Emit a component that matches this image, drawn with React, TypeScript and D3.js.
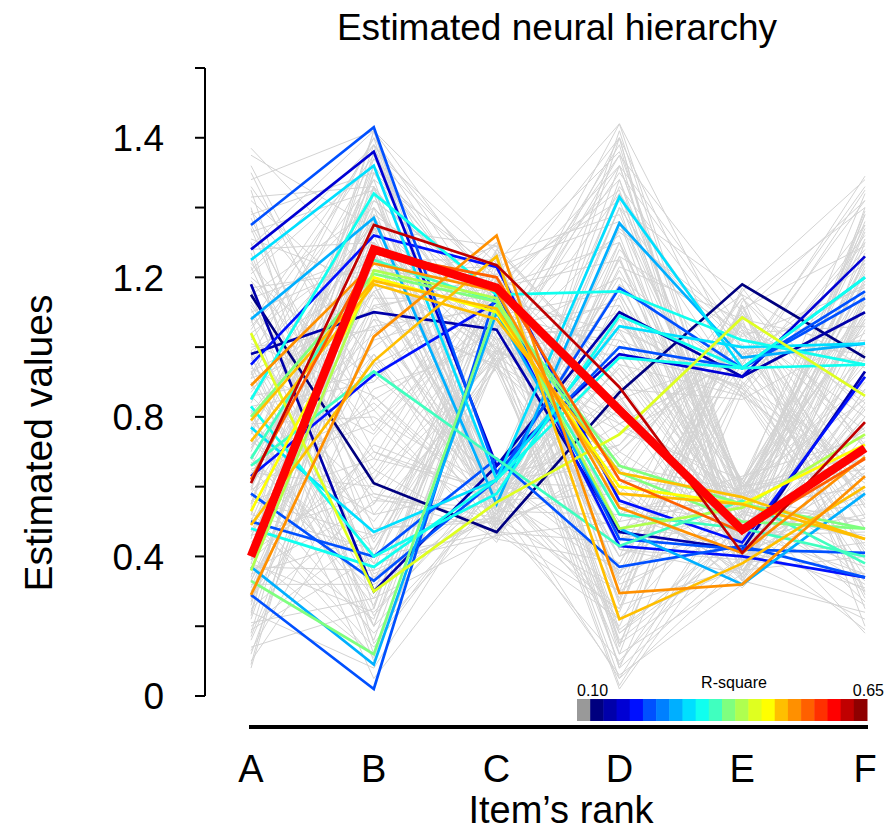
import React from "react";
import * as d3 from "d3";

const categories = ["A", "B", "C", "D", "E", "F"];
const yTickValues = [0, 0.2, 0.4, 0.6, 0.8, 1.0, 1.2, 1.4, 1.6, 1.8];
const yLabelValues = [0, 0.4, 0.8, 1.2, 1.6];
const yLabelTexts = ["0", "0.4", "0.8", "1.2", "1.4"];

const jetPalette = [
  "#00007F", "#0000AA", "#0000D4", "#0010FF", "#0050FF", "#0080FF", "#00AFFF",
  "#00DFFF", "#10FFEF", "#40FFBF", "#7FFF7F", "#AFFF50", "#DFFF20", "#FFFF00",
  "#FFBF00", "#FF9000", "#FF6000", "#FF3000", "#FF0000", "#C00000", "#8F0000",
];
const legendLow = "0.10";
const legendHigh = "0.65";

const grayValues: number[][] = [
  [1.57, 1.20, 0.98, 1.64, 0.95, 1.49],
  [1.52, 0.85, 1.05, 1.55, 1.10, 1.42],
  [1.48, 1.62, 0.58, 0.30, 0.52, 1.38],
  [1.45, 0.40, 1.20, 0.08, 0.40, 1.30],
  [1.42, 1.10, 0.50, 1.48, 0.60, 0.90],
  [1.40, 0.25, 1.28, 0.90, 1.15, 0.25],
  [1.38, 1.50, 0.95, 0.12, 0.35, 1.05],
  [1.35, 0.70, 0.55, 1.40, 0.88, 0.40],
  [1.33, 1.45, 1.10, 0.45, 0.58, 1.25],
  [1.30, 0.15, 0.62, 1.25, 0.45, 1.20],
  [1.28, 1.30, 0.47, 0.70, 1.05, 0.30],
  [1.25, 0.55, 1.15, 1.60, 0.33, 0.75],
  [1.22, 1.58, 0.60, 0.20, 0.92, 1.45],
  [1.20, 0.90, 1.30, 0.55, 0.50, 1.10],
  [1.18, 0.35, 0.52, 1.35, 1.00, 0.55],
  [1.15, 1.40, 1.02, 0.05, 0.38, 0.80],
  [1.12, 0.65, 0.45, 1.15, 0.62, 1.35],
  [1.10, 1.25, 1.25, 0.35, 1.12, 0.20],
  [1.08, 0.20, 0.57, 1.52, 0.55, 0.95],
  [1.05, 1.55, 0.94, 0.65, 0.42, 1.40],
  [1.03, 0.45, 1.12, 0.15, 0.90, 0.65],
  [1.00, 1.05, 0.63, 1.30, 0.34, 1.15],
  [0.98, 0.10, 0.99, 0.80, 0.58, 0.45],
  [0.96, 1.35, 0.48, 0.25, 1.08, 1.00],
  [0.94, 0.75, 1.18, 1.45, 0.47, 0.35],
  [0.92, 1.60, 0.53, 0.95, 0.86, 1.28],
  [0.90, 0.30, 1.08, 0.40, 0.60, 0.85],
  [0.88, 1.15, 0.64, 1.20, 0.40, 0.60],
  [0.86, 0.50, 0.96, 0.02, 0.52, 1.22],
  [0.84, 1.48, 1.22, 0.75, 0.95, 0.28],
  [0.82, 0.05, 0.50, 1.10, 0.36, 0.70],
  [0.80, 1.20, 1.00, 0.50, 1.16, 1.48],
  [0.78, 0.80, 0.59, 1.62, 0.55, 0.50],
  [0.76, 1.38, 1.14, 0.18, 0.44, 0.92],
  [0.74, 0.28, 0.46, 0.85, 0.98, 1.18],
  [0.72, 1.00, 1.26, 1.38, 0.61, 0.38],
  [0.70, 1.52, 0.61, 0.60, 0.32, 0.78],
  [0.68, 0.38, 1.04, 1.05, 0.88, 1.32],
  [0.66, 1.28, 0.51, 0.10, 0.50, 0.55],
  [0.64, 0.60, 0.97, 1.50, 1.02, 0.98],
  [0.62, 1.42, 1.16, 0.42, 0.39, 0.22],
  [0.60, 0.18, 0.55, 1.18, 0.57, 1.08],
  [0.58, 1.12, 0.94, 0.28, 1.10, 0.62],
  [0.56, 0.68, 1.28, 0.92, 0.46, 1.38],
  [0.54, 1.62, 0.49, 1.28, 0.90, 0.42],
  [0.52, 0.42, 1.06, 0.58, 0.35, 0.88],
  [0.50, 1.32, 0.60, 0.05, 0.62, 1.12],
  [0.48, 0.22, 1.20, 1.42, 0.53, 0.32],
  [0.46, 1.08, 0.56, 0.72, 1.14, 0.72],
  [0.44, 0.88, 1.01, 1.58, 0.41, 1.26],
  [0.42, 1.46, 0.45, 0.38, 0.93, 0.48],
  [0.40, 0.12, 1.10, 1.00, 0.56, 0.18],
  [0.38, 1.18, 0.62, 0.22, 0.37, 1.02],
  [0.36, 0.55, 0.98, 1.33, 1.06, 0.58],
  [0.34, 1.56, 1.24, 0.48, 0.60, 1.44],
  [0.32, 0.32, 0.52, 0.88, 0.43, 0.82],
  [0.30, 1.02, 1.13, 0.08, 0.87, 0.36],
  [0.28, 0.72, 0.58, 1.22, 0.59, 1.16],
  [0.26, 1.40, 0.96, 0.62, 0.31, 0.66],
  [0.24, 0.08, 0.64, 1.46, 1.00, 0.96],
  [0.22, 1.22, 1.18, 0.32, 0.48, 0.26],
  [0.20, 0.48, 0.50, 1.08, 0.54, 1.34],
  [0.18, 1.34, 1.07, 0.14, 1.12, 0.52],
  [0.16, 0.95, 0.57, 0.82, 0.45, 0.86],
  [0.14, 0.25, 1.23, 1.36, 0.39, 0.44],
  [0.12, 1.10, 0.53, 0.52, 0.96, 1.24],
  [0.10, 0.62, 0.99, 0.03, 0.58, 0.68],
  [0.08, 1.26, 0.60, 1.12, 0.51, 0.30],
  [1.02, 1.48, 0.54, 0.85, 0.44, 0.58],
  [0.93, 0.20, 1.17, 1.25, 0.61, 1.06],
  [0.87, 1.36, 0.63, 0.35, 0.89, 1.30],
  [0.79, 0.42, 0.95, 1.55, 0.36, 0.40],
  [0.71, 1.16, 1.29, 0.12, 1.04, 0.76],
  [0.65, 0.78, 0.48, 1.02, 0.62, 1.18],
  [0.59, 1.50, 1.09, 0.68, 0.33, 0.24],
  [0.53, 0.14, 0.61, 1.40, 1.15, 0.94],
  [0.47, 1.24, 0.93, 0.18, 0.49, 1.36],
  [0.41, 0.66, 1.21, 0.95, 0.57, 0.50],
  [1.13, 0.58, 0.51, 1.60, 0.86, 0.34],
  [1.07, 1.58, 1.03, 0.40, 0.55, 1.10],
  [0.97, 0.34, 0.59, 0.25, 1.09, 0.84],
  [0.91, 1.06, 1.11, 1.48, 0.43, 0.64],
  [0.75, 1.44, 0.56, 0.78, 0.97, 1.46],
  [0.69, 0.26, 1.16, 0.58, 0.35, 1.00],
  [0.57, 0.98, 0.46, 1.30, 0.60, 0.27],
  [0.45, 1.62, 1.27, 0.15, 0.40, 0.80],
  [0.35, 0.46, 0.62, 1.18, 0.91, 1.20],
  [0.27, 1.30, 0.97, 0.45, 0.52, 0.46],
  [1.24, 0.82, 0.44, 1.05, 0.47, 0.90],
  [1.16, 0.12, 1.00, 0.70, 1.01, 0.56],
  [0.99, 1.20, 0.55, 0.06, 0.32, 1.14],
  [0.83, 0.90, 1.24, 1.64, 0.58, 0.70],
  [0.67, 0.36, 0.51, 0.30, 1.13, 1.40],
  [0.55, 1.54, 1.06, 1.12, 0.46, 0.19],
  [0.39, 0.70, 0.58, 0.88, 0.85, 1.04],
  [0.31, 1.14, 1.14, 1.52, 0.54, 0.60],
  [0.19, 0.40, 0.47, 0.22, 0.60, 0.98],
  [1.46, 0.95, 1.12, 0.52, 0.63, 0.74],
  [1.34, 0.52, 0.60, 1.10, 0.41, 1.16],
  [0.61, 1.08, 0.95, 0.40, 1.07, 0.54],
  [1.37, 0.62, 1.19, 0.33, 0.99, 0.48],
  [1.31, 1.18, 0.49, 1.26, 0.40, 1.08],
  [1.27, 0.33, 1.03, 0.60, 1.11, 1.29],
  [1.21, 1.52, 0.57, 0.98, 0.50, 0.37],
  [1.19, 0.76, 1.27, 0.26, 0.37, 0.88],
  [1.14, 1.27, 0.61, 1.44, 0.94, 0.62],
  [1.11, 0.44, 0.97, 0.78, 0.56, 1.33],
  [1.06, 1.42, 1.15, 0.16, 0.45, 0.52],
  [1.01, 0.86, 0.52, 1.34, 1.03, 1.17],
  [0.97, 1.60, 1.08, 0.56, 0.36, 0.83],
  [0.95, 0.23, 0.64, 0.98, 0.89, 0.43],
  [0.93, 1.11, 1.21, 1.56, 0.59, 1.24],
  [0.89, 0.57, 0.47, 0.44, 1.17, 0.71],
  [0.85, 1.33, 0.99, 1.14, 0.42, 0.31],
  [0.81, 0.16, 1.13, 0.34, 0.53, 1.09],
  [0.77, 1.46, 0.55, 1.08, 0.87, 0.57],
  [0.73, 0.52, 0.94, 1.60, 0.38, 0.99],
  [0.69, 1.04, 1.30, 0.46, 0.95, 1.42],
  [0.65, 0.30, 0.58, 0.82, 0.34, 0.66],
  [0.63, 1.37, 1.01, 0.09, 0.61, 1.21],
  [0.59, 0.84, 0.53, 1.23, 1.08, 0.29],
  [0.55, 1.58, 1.17, 0.70, 0.48, 0.77],
  [0.51, 0.11, 0.96, 1.44, 0.57, 1.31],
  [0.49, 1.16, 0.63, 0.38, 1.00, 0.51],
  [0.43, 0.64, 1.09, 1.16, 0.44, 0.93],
  [0.39, 1.44, 0.50, 0.62, 0.58, 1.12],
  [0.37, 0.36, 1.25, 0.27, 1.12, 0.39],
  [0.33, 0.98, 0.60, 1.40, 0.39, 0.84],
  [0.29, 1.26, 1.05, 0.54, 0.55, 1.27],
  [0.25, 0.56, 0.54, 1.06, 0.86, 0.61],
  [0.23, 1.50, 1.19, 0.19, 0.47, 0.97],
  [0.21, 0.28, 0.95, 0.76, 0.62, 0.33],
  [0.17, 1.06, 0.48, 1.26, 1.04, 1.06],
  [0.13, 0.74, 1.12, 0.42, 0.35, 0.73],
  [0.09, 1.38, 0.57, 0.94, 0.53, 0.45],
  [1.55, 1.34, 0.63, 0.72, 1.06, 0.87],
  [1.50, 0.78, 1.10, 1.32, 0.43, 0.59],
  [1.43, 1.46, 0.99, 0.84, 0.51, 1.23],
  [1.39, 0.96, 0.56, 0.58, 0.98, 1.02],
  [1.29, 1.62, 1.14, 1.04, 0.60, 0.69],
  [1.23, 0.48, 0.51, 0.86, 0.37, 1.15],
  [1.17, 1.22, 1.23, 0.64, 1.14, 0.82],
  [1.09, 0.68, 0.59, 0.94, 0.46, 0.47],
  [1.04, 1.30, 1.02, 1.20, 0.91, 1.35],
  [0.99, 0.38, 0.46, 0.50, 0.57, 0.76],
  [0.91, 1.54, 1.20, 0.86, 0.33, 1.13],
  [0.86, 0.92, 0.62, 0.66, 1.10, 0.54],
  [0.81, 1.26, 0.96, 1.10, 0.52, 0.91],
  [0.76, 0.20, 1.07, 0.52, 0.41, 1.26],
  [0.71, 1.40, 0.52, 1.36, 0.60, 0.65],
  [0.66, 0.82, 1.15, 0.78, 0.97, 0.41],
  [0.60, 1.18, 0.57, 0.36, 0.50, 1.19],
  [0.56, 0.46, 1.00, 1.52, 1.05, 0.80],
  [0.52, 1.34, 1.29, 0.90, 0.39, 0.35],
  [0.46, 0.58, 0.49, 0.66, 0.59, 1.07],
  [0.42, 1.52, 1.06, 1.02, 0.88, 0.63],
  [0.38, 0.24, 0.61, 0.48, 0.45, 0.91],
  [0.33, 1.12, 1.17, 1.30, 0.54, 1.39],
  [0.28, 0.86, 0.55, 0.24, 1.09, 0.71],
  [0.24, 1.46, 0.98, 0.98, 0.42, 0.51],
];

const coloredValues: number[][] = [
  [1.35, 1.63, 0.64, 1.00, 0.94, 1.14],
  [1.28, 1.56, 0.66, 0.98, 0.915, 1.26],
  [1.25, 1.52, 0.62, 1.43, 0.94, 1.20],
  [0.85, 1.44, 1.15, 1.16, 1.02, 0.95],
  [1.08, 1.37, 0.55, 1.355, 0.97, 1.01],
  [0.61, 1.35, 1.235, 0.885, 0.41, 0.785],
  [0.95, 1.32, 1.23, 0.56, 0.44, 0.915],
  [0.89, 1.24, 1.16, 0.54, 0.41, 0.685],
  [0.80, 1.21, 1.13, 0.66, 0.55, 0.48],
  [0.73, 1.18, 1.08, 0.64, 0.57, 0.45],
  [0.29, 1.03, 1.32, 0.295, 0.32, 0.63],
  [0.49, 0.96, 1.26, 0.22, 0.38, 0.60],
  [1.04, 0.30, 0.555, 0.75, 1.085, 0.86],
  [1.15, 0.61, 0.47, 0.87, 1.18, 0.97],
  [1.18, 0.30, 0.66, 1.10, 0.915, 1.10],
  [0.77, 0.47, 0.62, 1.06, 1.00, 1.01],
  [0.83, 0.40, 0.58, 1.09, 0.94, 0.95],
  [0.48, 0.37, 0.62, 0.97, 0.94, 1.20],
  [0.33, 0.12, 1.12, 0.64, 0.50, 0.48],
  [0.37, 0.09, 1.10, 0.48, 0.32, 0.58],
  [0.29, 0.02, 1.16, 0.45, 0.42, 0.41],
  [0.63, 0.92, 1.13, 0.43, 0.40, 0.34],
  [0.53, 1.20, 1.10, 0.60, 0.55, 0.72],
  [0.68, 1.25, 1.13, 0.52, 0.48, 0.40],
  [0.62, 1.27, 1.20, 0.62, 0.47, 0.68],
  [0.79, 1.19, 1.11, 0.58, 0.55, 0.45],
  [0.50, 0.40, 0.68, 0.37, 0.43, 0.34],
  [0.66, 0.93, 0.68, 0.43, 0.56, 0.38],
  [0.58, 0.33, 0.62, 1.17, 0.94, 1.16],
  [0.98, 1.10, 1.05, 0.47, 0.42, 0.93],
  [0.36, 1.22, 1.14, 0.48, 0.54, 0.75],
];
const coloredRsq = [
  0.22, 0.16, 0.30, 0.32, 0.27, 0.61, 0.19, 0.51, 0.37, 0.48, 0.51, 0.48, 0.43,
  0.11, 0.14, 0.30, 0.32, 0.32, 0.37, 0.27, 0.22, 0.19, 0.45, 0.35, 0.53, 0.48,
  0.22, 0.35, 0.22, 0.14, 0.40,
];

const bestValues = [0.40, 1.28, 1.17, 0.82, 0.476, 0.71];
const bestRsq = 0.59;

const FONT = "'Liberation Sans', Arial, Helvetica, sans-serif";

export default function App() {
  const W = 884;
  const H = 838;
  const x = d3.scalePoint<string>().domain(categories).range([251, 865]);
  const y = d3.scaleLinear().domain([0, 1.8]).range([696, 68]);
  const color = d3
    .scaleQuantize<string>()
    .domain([0.1, 0.65])
    .range(jetPalette);

  const line = d3
    .line<number>()
    .x((_, i) => x(categories[i]) as number)
    .y((v) => y(v));

  const colored = coloredValues
    .map((vals, i) => ({ vals, r: coloredRsq[i] }))
    .sort((a, b) => a.r - b.r);

  const legendItems = ["#999999", ...jetPalette];
  const legendX = d3
    .scaleBand<number>()
    .domain(d3.range(legendItems.length))
    .range([577, 867])
    .padding(0);

  return (
    <svg
      width={W}
      height={H}
      style={{ position: "absolute", left: 0, top: 0, background: "#fff" }}
      fontFamily={FONT}
    >
      <text x={557} y={40} textAnchor="middle" fontSize={37} fill="#000">
        Estimated neural hierarchy
      </text>

      <g fill="none" stroke="#d3d3d3" strokeWidth={1}>
        {grayValues.map((vals, i) => (
          <path key={i} d={line(vals) || ""} />
        ))}
      </g>

      <g fill="none" strokeWidth={2.7} strokeLinejoin="miter">
        {colored.map((c, i) => (
          <path key={i} d={line(c.vals) || ""} stroke={color(c.r)} />
        ))}
      </g>
      <path
        d={line(bestValues) || ""}
        fill="none"
        stroke={color(bestRsq)}
        strokeWidth={8.5}
        strokeLinejoin="miter"
      />

      <line x1={205} x2={205} y1={y(1.8)} y2={y(0)} stroke="#000" strokeWidth={2} />
      {yTickValues.map((v) => (
        <line key={v} x1={195} x2={205} y1={y(v)} y2={y(v)} stroke="#000" strokeWidth={2} />
      ))}
      {yLabelValues.map((v, i) => (
        <text key={v} x={164} y={y(v)} dy="0.36em" textAnchor="end" fontSize={37} fill="#000">
          {yLabelTexts[i]}
        </text>
      ))}
      <text
        transform={`translate(52,${443}) rotate(-90)`}
        textAnchor="middle"
        fontSize={39}
        fill="#000"
      >
        Estimated values
      </text>

      <line x1={249} x2={868} y1={727} y2={727} stroke="#000" strokeWidth={4} />
      {categories.map((c) => (
        <text key={c} x={x(c)} y={782} textAnchor="middle" fontSize={38} fill="#000">
          {c}
        </text>
      ))}
      <text x={561} y={823} textAnchor="middle" fontSize={38} fill="#000">
        Item’s rank
      </text>

      {legendItems.map((col, i) => (
        <rect
          key={i}
          x={legendX(i)}
          y={699}
          width={legendX.bandwidth() + 0.5}
          height={22}
          fill={col}
        />
      ))}
      <text x={577} y={696} fontSize={16} fill="#000">{legendLow}</text>
      <text x={734} y={688} textAnchor="middle" fontSize={16} fill="#000">R-square</text>
      <text x={884} y={696} textAnchor="end" fontSize={16} fill="#000">{legendHigh}</text>
    </svg>
  );
}
